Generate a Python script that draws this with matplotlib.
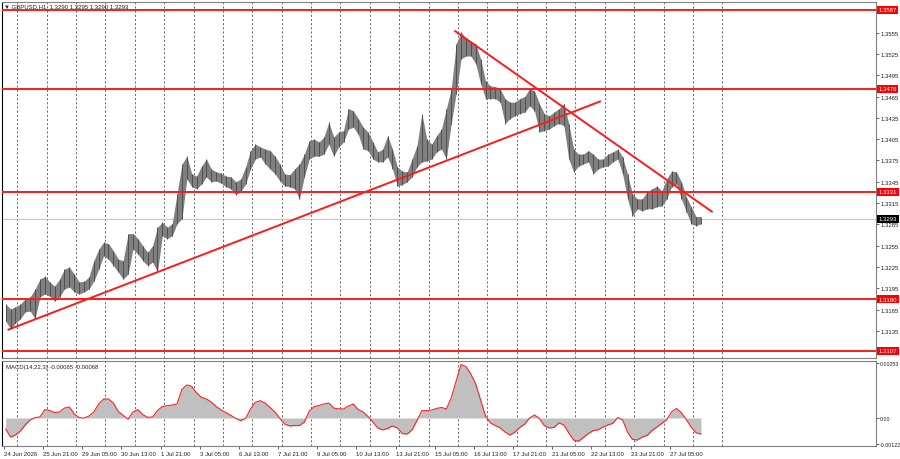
import numpy as np
import matplotlib.pyplot as plt
import matplotlib.transforms as mtransforms

plt.rcParams['font.family'] = ['Liberation Sans', 'DejaVu Sans']

# GBPUSD H1 in blocks of 4 bars (block high / block low)
hi = [1.3173, 1.3166, 1.3169, 1.3173, 1.3180, 1.3183, 1.3194, 1.3208, 1.3212, 1.3204,
      1.3198, 1.3208, 1.3222, 1.3225, 1.3215, 1.3204, 1.3205, 1.3211, 1.3234, 1.3250,
      1.3260, 1.3258, 1.3248, 1.3236, 1.3234, 1.3272, 1.3272, 1.3265, 1.3255, 1.3246,
      1.3255, 1.3281, 1.3288, 1.3281, 1.3286, 1.3328, 1.3370, 1.3381, 1.3356, 1.3353,
      1.3367, 1.3377, 1.3363, 1.3359, 1.3357, 1.3353, 1.3352, 1.3345, 1.3349, 1.3366,
      1.3389, 1.3398, 1.3394, 1.3391, 1.3389, 1.3381, 1.3370, 1.3356, 1.3355, 1.3363,
      1.3370, 1.3384, 1.3403, 1.3405, 1.3401, 1.3408, 1.3429, 1.3408, 1.3415, 1.3417,
      1.3448, 1.3445, 1.3434, 1.3422, 1.3415, 1.3401, 1.3387, 1.3391, 1.3410, 1.3391,
      1.3366, 1.3360, 1.3359, 1.3377, 1.3396, 1.3441, 1.3405, 1.3398, 1.3410, 1.3419,
      1.3448, 1.3476, 1.3539, 1.3556, 1.3546, 1.3542, 1.3539, 1.3518, 1.3487, 1.3480,
      1.3479, 1.3476, 1.3462, 1.3457, 1.3457, 1.3462, 1.3465, 1.3476, 1.3473, 1.3455,
      1.3441, 1.3438, 1.3443, 1.3448, 1.3455, 1.3427, 1.3391, 1.3384, 1.3384, 1.3389,
      1.3384, 1.3377, 1.3377, 1.3384, 1.3387, 1.3391, 1.3380, 1.3356, 1.3328, 1.3321,
      1.3321, 1.3331, 1.3335, 1.3339, 1.3332, 1.3349, 1.3360, 1.3359, 1.3345, 1.3324,
      1.3310, 1.3296, 1.3296]
lo = [1.3149, 1.3138, 1.3146, 1.3152, 1.3162, 1.3163, 1.3152, 1.3183, 1.3187, 1.3184,
      1.3177, 1.3183, 1.3194, 1.3197, 1.3190, 1.3187, 1.3190, 1.3194, 1.3205, 1.3222,
      1.3241, 1.3236, 1.3227, 1.3218, 1.3208, 1.3215, 1.3250, 1.3243, 1.3234, 1.3227,
      1.3232, 1.3218, 1.3269, 1.3265, 1.3269, 1.3286, 1.3293, 1.3349, 1.3338, 1.3335,
      1.3342, 1.3352, 1.3345, 1.3346, 1.3343, 1.3338, 1.3335, 1.3327, 1.3331, 1.3342,
      1.3363, 1.3377, 1.3380, 1.3370, 1.3363, 1.3356, 1.3346, 1.3339, 1.3338, 1.3335,
      1.3321, 1.3352, 1.3377, 1.3381, 1.3381, 1.3384, 1.3398, 1.3381, 1.3394, 1.3401,
      1.3419, 1.3422, 1.3412, 1.3391, 1.3389, 1.3377, 1.3373, 1.3373, 1.3380, 1.3363,
      1.3339, 1.3341, 1.3345, 1.3352, 1.3366, 1.3373, 1.3374, 1.3377, 1.3387, 1.3391,
      1.3377, 1.3427, 1.3469, 1.3518, 1.3522, 1.3522, 1.3511, 1.3483, 1.3462, 1.3462,
      1.3462, 1.3457, 1.3427, 1.3434, 1.3438, 1.3441, 1.3443, 1.3452, 1.3445, 1.3415,
      1.3417, 1.3419, 1.3424, 1.3427, 1.3424, 1.3377, 1.3359, 1.3367, 1.3370, 1.3373,
      1.3356, 1.3363, 1.3366, 1.3367, 1.3373, 1.3377, 1.3356, 1.3321, 1.3297, 1.3307,
      1.3304, 1.3307, 1.3307, 1.3310, 1.3311, 1.3321, 1.3338, 1.3342, 1.3321, 1.3303,
      1.3286, 1.3283, 1.3286]

# MACD(14,22,3) main line, same 4-bar blocks
macd = [-0.00051, -0.00088, -0.00079, -0.00060, -0.00032, -0.00009, 0.00002, 0.00005, 0.00039, 0.00035,
        0.00025, 0.00028, 0.00046, 0.00051, 0.00019, 0.00002, 0.00000, 0.00009, 0.00028, 0.00065,
        0.00088, 0.00088, 0.00069, 0.00030, 0.00012, -0.00005, 0.00028, 0.00039, 0.00016, 0.00003,
        0.00005, 0.00035, 0.00053, 0.00057, 0.00060, 0.00065, 0.00132, 0.00153, 0.00146, 0.00116,
        0.00095, 0.00088, 0.00074, 0.00053, 0.00037, 0.00025, 0.00012, -0.00002, -0.00012, -0.00002,
        0.00042, 0.00073, 0.00080, 0.00069, 0.00049, 0.00028, -0.00002, -0.00028, -0.00037, -0.00035,
        -0.00035, -0.00019, 0.00032, 0.00053, 0.00058, 0.00065, 0.00069, 0.00046, 0.00042, 0.00042,
        0.00055, 0.00065, 0.00039, 0.00028, 0.00007, -0.00019, -0.00046, -0.00055, -0.00049, -0.00037,
        -0.00046, -0.00072, -0.00074, -0.00055, -0.00012, 0.00034, 0.00034, 0.00037, 0.00044, 0.00049,
        0.00042, 0.00093, 0.00171, 0.00247, 0.00238, 0.00204, 0.00157, 0.00083, 0.00009, -0.00023,
        -0.00035, -0.00046, -0.00065, -0.00079, -0.00065, -0.00044, -0.00028, 0.00000, 0.00014, -0.00002,
        -0.00035, -0.00046, -0.00044, -0.00023, -0.00032, -0.00069, -0.00102, -0.00108, -0.00090, -0.00072,
        -0.00058, -0.00055, -0.00042, -0.00032, -0.00025, 0.00002, -0.00009, -0.00065, -0.00099, -0.00102,
        -0.00088, -0.00081, -0.00058, -0.00042, -0.00025, -0.00008, 0.00028, 0.00044, 0.00025, -0.00007,
        -0.00042, -0.00069, -0.00074]

levels = [1.3587, 1.3476, 1.3331, 1.3180, 1.3107]
last_price = 1.3293
price_ticks = [1.3555, 1.3525, 1.3495, 1.3465, 1.3435, 1.3405, 1.3375, 1.3345,
               1.3315, 1.3285, 1.3255, 1.3225, 1.3195, 1.3165, 1.3135]
date_labels = ["24 Jun 2026", "25 Jun 21:00", "29 Jun 05:00", "30 Jun 13:00", "1 Jul 21:00",
               "3 Jul 05:00", "6 Jul 13:00", "7 Jul 21:00", "9 Jul 05:00", "10 Jul 13:00",
               "13 Jul 21:00", "15 Jul 05:00", "16 Jul 13:00", "17 Jul 21:00", "21 Jul 05:00",
               "22 Jul 13:00", "23 Jul 21:00", "27 Jul 05:00"]
# trend lines: (bar index, price) at both ends
trend_up = ([3.8, 487.0], [1.3137, 1.3458])
trend_down = ([368.7, 578.4], [1.3557, 1.3303])

xs = np.arange(len(hi)) * 4 + 1.5
date_bars = np.arange(len(date_labels)) * 32
day_bars = np.arange(11, 600, 24)

fig = plt.figure(figsize=(9, 4.6), dpi=100)
ax = fig.add_axes([2 / 900, 101 / 460, 874 / 900, 356 / 460])
ax2 = fig.add_axes([2 / 900, 13 / 460, 874 / 900, 85 / 460])

fs = 4.3
for a in (ax, ax2):
    a.set_xlim(-1.5, 712.5)
    for b in day_bars:
        a.axvline(b, color='#505050', lw=0.6, ls=(0, (2.5, 2.5)), zorder=0)
    for s in a.spines.values():
        s.set_color('#808080')
        s.set_linewidth(0.8)
    a.spines['left'].set_color('black')
    a.yaxis.tick_right()
    a.tick_params(axis='y', labelsize=fs, length=2, width=0.5, pad=1, colors='#202020')

# main price panel: a filled high/low band with thin bar strokes on top
ax.fill_between(xs, lo, hi, color='#808080', lw=0, zorder=2)
ax.vlines(xs, lo, hi, colors='#505050', lw=0.7, zorder=2)
ax.axhline(last_price, color='#c8c8c8', lw=0.8, zorder=1)
for lev in levels:
    ax.axhline(lev, color='#ff1a1a', lw=1.4, zorder=3)
ax.plot(trend_up[0], trend_up[1], color='#ff1a1a', lw=1.4, zorder=3)
ax.plot(trend_down[0], trend_down[1], color='#ff1a1a', lw=1.4, zorder=3)
ax.set_ylim(1.3097, 1.3598)
ax.set_yticks(price_ticks)
ax.set_yticklabels([f"{p:.4f}" for p in price_ticks])
ax.set_xticks([])

tr = mtransforms.blended_transform_factory(ax.transAxes, ax.transData)
for lev in levels:
    ax.text(1.003, lev, f"{lev:.4f}", transform=tr, fontsize=fs, color='white',
            va='center', ha='left', clip_on=False, zorder=5,
            bbox=dict(boxstyle='square,pad=0.25', fc='#ff0000', ec='none'))
ax.text(1.003, last_price, f"{last_price:.4f}", transform=tr, fontsize=fs, color='white',
        va='center', ha='left', clip_on=False, zorder=5,
        bbox=dict(boxstyle='square,pad=0.25', fc='black', ec='none'))

fig.text(4 / 900, 1 - 7 / 460, "\u25bc GBPUSD,H1  1.3290 1.3295 1.3290 1.3293",
         fontsize=fs, va='center', ha='left', color='#202020')

# MACD panel
ax2.fill_between(xs, 0, macd, color='#c0c0c0', lw=0, zorder=2)
ax2.plot(xs, macd, color='#ff2020', lw=0.8, zorder=3)
ax2.set_ylim(-0.001295, 0.002637)
ax2.set_yticks([0.00253, 0.0, -0.00122])
ax2.set_yticklabels(["0.00253", "0.00", "-0.00122"])
ax2.tick_params(axis='y', labelsize=3.8, pad=0.5)
ax2.set_xticks(date_bars)
ax2.set_xticklabels(date_labels)
ax2.tick_params(axis='x', labelsize=fs, length=2, width=0.5, pad=1.5, colors='#202020')
for t in ax2.get_xticklabels():
    t.set_ha('left')
ax2.text(4 / 874, 0.93, "MACD(14,22,3) -0.00065 -0.00068", transform=ax2.transAxes,
         fontsize=fs, va='center', ha='left', color='#202020')

fig.savefig("out.png", dpi=100, facecolor='white')
